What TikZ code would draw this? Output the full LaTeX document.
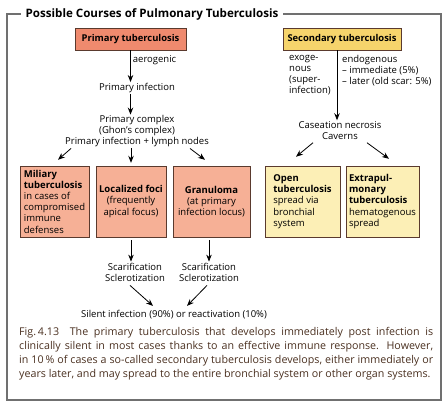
\documentclass[tikz,border=0pt]{standalone}
\usepackage{fontspec}
\setmainfont{Open Sans}
\usetikzlibrary{positioning,arrows.meta}
\definecolor{salmondark}{HTML}{EF8A6E}
\definecolor{salmonlight}{HTML}{F6B096}
\definecolor{yellowdark}{HTML}{F6D46C}
\definecolor{yellowlight}{HTML}{FCEFB6}
\definecolor{boxline}{HTML}{5A3A2E}
\definecolor{framegray}{HTML}{707070}
\definecolor{figbrown}{HTML}{4A3020}
\tikzstyle{plain}=[inner sep=1pt, align=center, font=\fontsize{9.5}{11}\selectfont]
\tikzstyle{hdrP}=[draw=boxline, fill=salmondark, minimum width=111pt, minimum height=22pt, font=\fontsize{9.4}{11}\selectfont\bfseries]
\tikzstyle{hdrS}=[draw=boxline, fill=yellowdark, minimum width=118pt, minimum height=22pt, font=\fontsize{9.4}{11}\selectfont\bfseries]
\tikzstyle{boxP}=[draw=boxline, fill=salmonlight, minimum height=71pt, inner sep=1pt, font=\fontsize{9.5}{11.2}\selectfont]
\tikzstyle{boxS}=[draw=boxline, fill=yellowlight, minimum height=71pt, inner sep=1pt, font=\fontsize{9.5}{11.2}\selectfont]
\tikzstyle{arr}=[draw=black, line width=0.8pt, -{Stealth[length=7pt,width=5.5pt]}]

\begin{document}
\begin{tikzpicture}[x=1pt,y=-1pt]
  \useasboundingbox (0,0) rectangle (444,405);
  % frame and title
  \draw[framegray, line width=1.2pt] (7,14) rectangle (441,400);
  \node [fill=white, inner xsep=5pt, font=\fontsize{11.6}{13}\selectfont\bfseries] (title) at (152,14) {Possible Courses of Pulmonary Tuberculosis};

  % primary tuberculosis
  \node [style=hdrP] (primtb) at (130.5,39) {Primary tuberculosis};
  \node [style=plain] (priminf) at (137,88) {Primary infection};
  \node [style=plain] (primcx) at (137,131.5) {Primary complex\\(Ghon's complex)\\Primary infection + lymph nodes};
  \node [style=boxP, minimum width=69pt, align=left] (miliary) at (54.5,201.5) {\textbf{Miliary}\\\textbf{tuberculosis}\\in cases of\\compromised\\immune\\defenses};
  \node [style=boxP, minimum width=70pt, align=center] (local) at (131,201.5) {\textbf{Localized foci}\\(frequently\\apical focus)};
  \node [style=boxP, minimum width=77pt, align=center] (granu) at (211.5,201.5) {\textbf{Granuloma}\\(at primary\\infection locus)};
  \node [style=plain] (scarL) at (135,272) {Scarification\\Sclerotization};
  \node [style=plain] (scarR) at (209,272) {Scarification\\Sclerotization};
  \node [style=plain] (silent) at (174,314.5) {Silent infection (90\%) or reactivation (10\%)};

  % secondary tuberculosis
  \node [style=hdrS] (sectb) at (342,39) {Secondary tuberculosis};
  \node [style=plain, align=left, anchor=north west] (exo) at (288,54) {exoge-\\nous\\(super-\\infection)};
  \node [style=plain, align=left, anchor=north west] (endo) at (341,54) {endogenous\\– immediate (5\%)\\– later (old scar: 5\%)};
  \node [style=plain] (caseat) at (340,130.5) {Caseation necrosis\\Caverns};
  \node [style=boxS, minimum width=75pt, align=left] (open) at (302.5,201.5) {\textbf{Open}\\\textbf{tuberculosis}\\spread via\\bronchial\\system};
  \node [style=boxS, minimum width=73pt, align=left] (extra) at (382.5,201.5) {\textbf{Extrapul-}\\\textbf{monary}\\\textbf{tuberculosis}\\hematogenous\\spread};

  % caption
  \node [anchor=north west, inner sep=0pt, text width=414pt, align=justify, font=\fontsize{10.7}{14}\selectfont, text=figbrown] (caption) at (19,327) {Fig.\,4.13\quad The primary tuberculosis that develops immediately post infection is\linebreak clinically silent in most cases thanks to an effective immune response. However,\linebreak in 10\,\% of cases a so-called secondary tuberculosis develops, either immediately or\linebreak years later, and may spread to the entire bronchial system or other organ systems.};

  % connectors
  \draw [style=arr] (primtb) -- node [pos=0.3, right, style=plain, xshift=1pt] (aero) {aerogenic} (primtb.south |- priminf.north);
  \draw [style=arr] (priminf.south -| primtb) -- (primcx.north -| primtb);
  \draw [style=arr] ([xshift=-66pt]primcx.south) -- ([xshift=3.5pt,yshift=6pt]miliary.north);
  \draw [style=arr] (primcx.south -| local) -- ([yshift=3pt]local.north);
  \draw [style=arr] ([xshift=53pt]primcx.south) -- ([xshift=-6.5pt,yshift=6pt]granu.north);
  \draw [style=arr] ([yshift=-3pt]local.south) -- (local.south |- scarL.north);
  \draw [style=arr] ([yshift=-3pt]granu.south -| scarR.north) -- (scarR.north);
  \draw [style=arr] ([xshift=-5pt,yshift=-3pt]scarL.south) -- ([xshift=-21pt,yshift=3pt]silent.north);
  \draw [style=arr] ([xshift=-2pt,yshift=-3pt]scarR.south) -- ([xshift=13pt,yshift=3pt]silent.north);
  \draw [style=arr] ([xshift=-5pt]sectb.south) -- ([xshift=-5pt]sectb.south |- caseat.north);
  \draw [style=arr] ([xshift=-27pt,yshift=-2pt]caseat.south) -- ([xshift=-6.5pt,yshift=9pt]open.north);
  \draw [style=arr] ([xshift=27pt,yshift=-2pt]caseat.south) -- ([xshift=6.5pt,yshift=7pt]extra.north);
\end{tikzpicture}
\end{document}
